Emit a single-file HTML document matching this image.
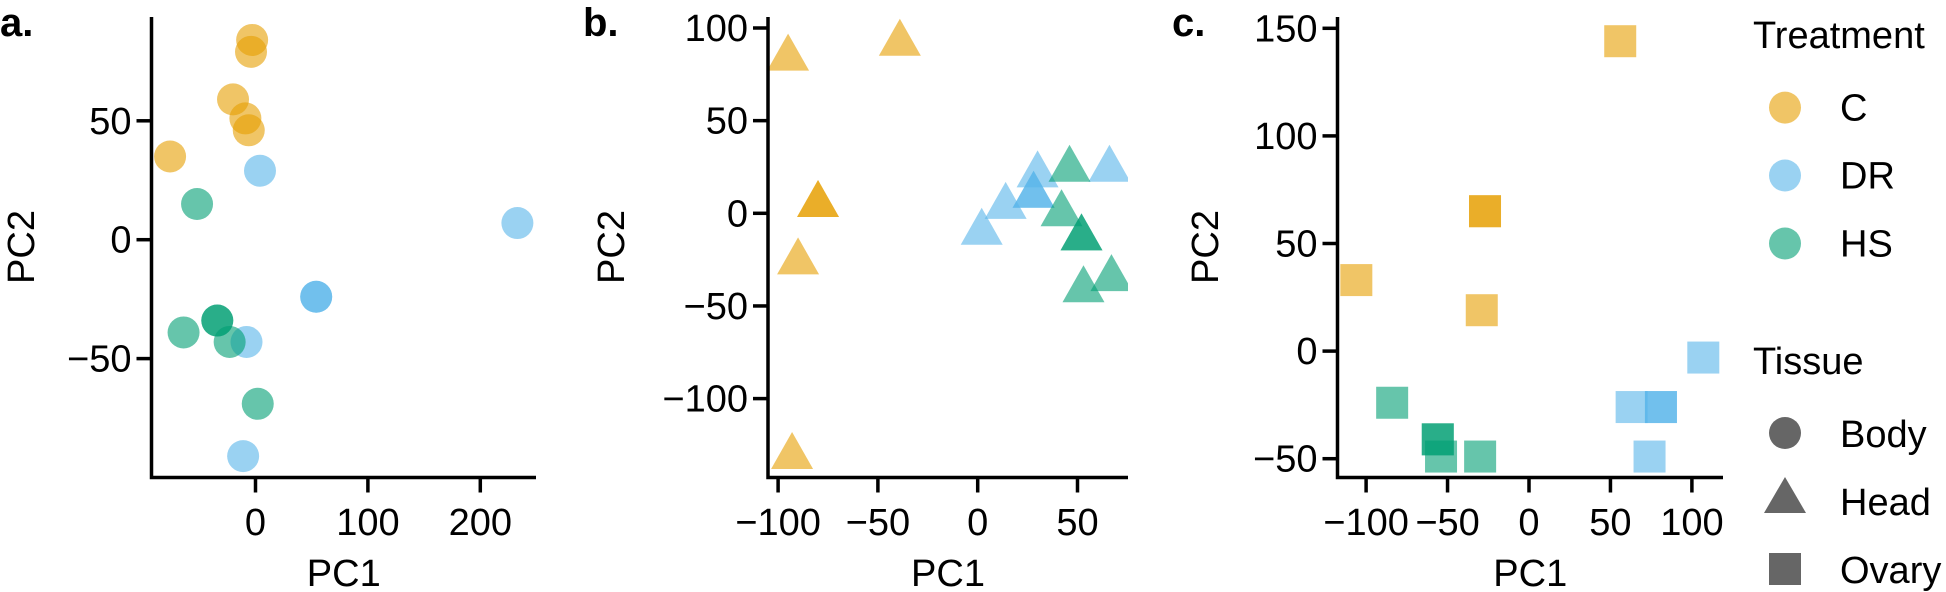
<!DOCTYPE html>
<html><head><meta charset="utf-8"><style>
body{margin:0;background:#fff;}
svg{display:block;font-family:"Liberation Sans",Arial,sans-serif;}
</style></head><body>
<svg id="fig" width="1946" height="592" viewBox="0 0 1946 592"></svg>
<script>
// ---- data ----
const treatments = ["C","DR","HS"];
const colors = {C:"#E69F00", DR:"#56B4E9", HS:"#009E73"};
// Panel a: Body
const aGroup = ["C","C","C","C","C","C","DR","DR","DR","DR","DR","DR","HS","HS","HS","HS","HS","HS"];
const aPC1 = [-3,-4,-20,-9,-6,-76, 4,54,54,-8,-11,233, -52,-64,-34,-34,-23,2];
const aPC2 = [84,79,59,51,46,35, 29,-24,-24,-43,-91,7, 15,-39,-34,-34,-43,-69];
// Panel b: Head
const bGroup = ["C","C","C","C","C","C","DR","DR","DR","DR","DR","DR","HS","HS","HS","HS","HS","HS"];
const bPC1 = [-95,-39,-80,-80,-90,-93, 2,14,30,28,28,66, 46,42,52,52,67,53];
const bPC2 = [87,95,8,8,-23,-128, -7,7,24,13,13,27, 27,3,-10,-10,-32,-38];
// Panel c: Ovary
const cGroup = ["C","C","C","C","C","DR","DR","DR","DR","DR","HS","HS","HS","HS","HS"];
const cPC1 = [56,-27,-27,-106,-29, 107,63,81,81,74, -84,-56,-56,-54,-30];
const cPC2 = [144,65,65,33,19, -3,-26,-26,-26,-49, -24,-41,-41,-49,-49];
// ticks
const aXTicks = [0,100,200], aYTicks = [50,0,-50];
const bXTicks = [-100,-50,0,50], bYTicks = [100,50,0,-50,-100];
const cXTicks = [-100,-50,0,50,100], cYTicks = [150,100,50,0,-50];

const NS="http://www.w3.org/2000/svg";
const svg=document.getElementById('fig');
function mk(tag,attrs,parent){const e=document.createElementNS(NS,tag);for(const k in attrs)e.setAttribute(k,attrs[k]);(parent||svg).appendChild(e);return e;}
function txt(s,attrs,parent){const e=mk('text',attrs,parent);e.textContent=s;return e;}
const FS=38;

function panel(cfg){
  const g=mk('g',{});
  
  
  const sx=v=>cfg.x0+v*cfg.kx, sy=v=>cfg.y0-v*cfg.ky;
  const clipId=cfg.name+'-clip';
  const cp=mk('clipPath',{id:clipId},g);
  mk('rect',{x:cfg.left,y:0,width:cfg.right-cfg.left,height:cfg.bottom},cp);
  const mg=mk('g',{'clip-path':'url(#'+clipId+')'},g);
  for(let i=0;i<cfg.px.length;i++){
    const cx=sx(cfg.px[i]), cy=sy(cfg.py[i]), col=colors[cfg.grp[i]];
    let m;
    if(cfg.shape==='circle') m=mk('ellipse',{cx:cx,cy:cy,rx:16,ry:16,fill:col,'fill-opacity':0.6},mg);
    else if(cfg.shape==='tri') m=mk('polygon',{points:`${cx},${cy-18.5} ${cx-21},${cy+18.5} ${cx+21},${cy+18.5}`,fill:col,'fill-opacity':0.6},mg);
    else m=mk('rect',{x:cx-16,y:cy-16,width:32,height:32,fill:col,'fill-opacity':0.6},mg);
    
    
  }
  const ax=mk('path',{d:`M${cfg.left},${cfg.top} V${cfg.bottom} H${cfg.right}`,stroke:'#000','stroke-width':3.5,fill:'none'},g);
  
  
  cfg.xt.forEach(v=>{
    const x=sx(v);
    mk('line',{x1:x,x2:x,y1:cfg.bottom,y2:cfg.bottom+15,stroke:'#000','stroke-width':3.5},g);
    const t=txt(v<0?'\u2212'+(-v):String(v),{x:x,y:535,'font-size':FS,'text-anchor':'middle'},g);
    
    
  });
  cfg.yt.forEach(v=>{
    const y=sy(v);
    mk('line',{x1:cfg.left-15,x2:cfg.left,y1:y,y2:y,stroke:'#000','stroke-width':3.5},g);
    const t=txt(v<0?'\u2212'+(-v):String(v),{x:cfg.left-20,y:y+13,'font-size':FS,'text-anchor':'end'},g);
    
    
  });
  const xl=txt('PC1',{x:(cfg.left+cfg.right)/2,y:586,'font-size':FS,'text-anchor':'middle'},g);
  
  
  const yl=txt('PC2',{x:0,y:0,'font-size':FS,'text-anchor':'middle',transform:`translate(${cfg.ylx},247) rotate(-90)`},g);
  
  
  const pl=txt(cfg.label,{x:cfg.lx,y:36,'font-size':40,'font-weight':'bold'},g);
  
  
}

panel({name:'panel-a-body',shape:'circle',px:aPC1,py:aPC2,grp:aGroup,x0:255.5,kx:1.124,y0:239.7,ky:2.378,
  left:151.5,right:536,top:17,bottom:477.5,xt:aXTicks,yt:aYTicks,ylx:34,label:'a.',lx:0});
panel({name:'panel-b-head',shape:'tri',px:bPC1,py:bPC2,grp:bGroup,x0:977.7,kx:1.996,y0:213.3,ky:1.853,
  left:768,right:1128,top:17,bottom:477.5,xt:bXTicks,yt:bYTicks,ylx:624,label:'b.',lx:583});
panel({name:'panel-c-ovary',shape:'square',px:cPC1,py:cPC2,grp:cGroup,x0:1529,kx:1.629,y0:351.1,ky:2.152,
  left:1337.5,right:1723,top:17,bottom:477.5,xt:cXTicks,yt:cYTicks,ylx:1218,label:'c.',lx:1172});

// legend
const lg=mk('g',{});


txt('Treatment',{x:1753,y:48,'font-size':FS},lg);
const legY=[107.6,175.5,243.5];
treatments.forEach((t,i)=>{
  const c=mk('ellipse',{cx:1785,cy:legY[i],rx:16,ry:16,fill:colors[t],'fill-opacity':0.6},lg);
  
  
  const l=txt(t,{x:1840,y:legY[i]+13,'font-size':FS},lg);
  
  
});
txt('Tissue',{x:1753,y:374,'font-size':FS},lg);
mk('ellipse',{cx:1785,cy:433,rx:16,ry:16,fill:'#666'},lg);
txt('Body',{x:1840,y:447,'font-size':FS},lg);
mk('polygon',{points:'1785,477 1764,513 1806,513',fill:'#666'},lg);
txt('Head',{x:1840,y:515,'font-size':FS},lg);
mk('rect',{x:1769,y:553,width:32,height:32,fill:'#666'},lg);
txt('Ovary',{x:1840,y:583,'font-size':FS},lg);
</script>
</body></html>
